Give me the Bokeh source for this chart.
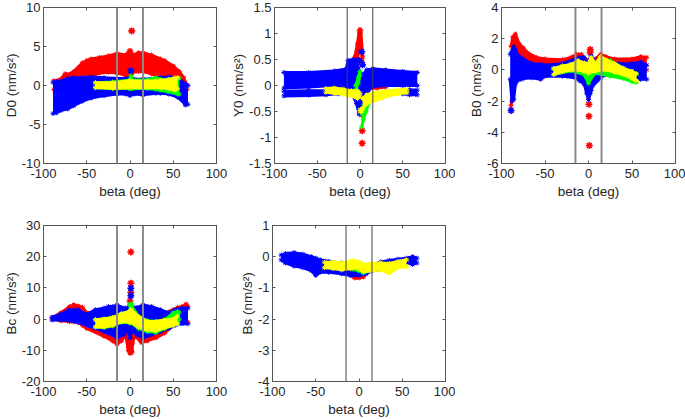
from bokeh.embed import file_html
from bokeh.resources import INLINE
from bokeh.plotting import figure
from bokeh.layouts import column, row
from bokeh.models import LinearAxis, FixedTicker, Span

RED, BLUE, GREEN, YELLOW = "#ff0000", "#0000ff", "#00ff00", "#ffff00"

X_TICKS = [-100, -50, 0, 50, 100]
X_TICK_LABELS = ["-100", "-50", "0", "50", "100"]
BETA_LINES = [-15, 15]

# ---- D0
D0_TICKS = [-10, -5, 0, 5, 10]
D0_LABELS = ["-10", "-5", "0", "5", "10"]
D0_RED_B = [-88, -80, -75, -72, -65, -55, -50, -45, -35, -25, -15, -5, -1, 0, 1, 3, 10, 15, 25, 35, 40, 50, 57, 62, 66]
D0_RED_L = [-0.5, 0.5, 0.7, 0.7, 0.8, 0.9, 1.0, 1.2, 1.6, 1.7, 1.6, 1.3, 1.0, 1.0, 1.0, 1.7, 1.8, 1.8, 1.5, 1.0, 0.8, 0.6, 0.3, -0.2, -0.5]
D0_RED_H = [0.6, 0.8, 1.5, 1.4, 1.8, 2.9, 3.2, 3.4, 3.6, 3.8, 4.1, 3.9, 4.4, 4.5, 4.4, 3.9, 4.2, 4.2, 3.9, 3.4, 3.2, 2.5, 1.8, 1.0, 0.0]
D0_RED_PX = [2, 1]
D0_RED_PY = [7.0, 1.7]
D0_BLUE_B = [-89, -85, -80, -72, -65, -55, -45, -30, -15, -5, 0, 5, 15, 30, 35, 45, 55, 60, 64, 67]
D0_BLUE_L = [-3.6, -3.5, -3.2, -3.0, -2.6, -2.0, -1.6, -1.3, -1.1, -1.1, -1.3, -1.1, -1.2, -1.0, -1.0, -1.1, -1.5, -1.9, -2.5, -2.4]
D0_BLUE_H = [0.4, 0.5, 0.5, 0.9, 1.0, 1.0, 1.1, 1.0, 0.9, 0.9, 1.0, 0.8, 0.8, 0.9, 1.0, 1.1, 0.9, 0.5, 0.2, 0.0]
D0_BLUE_PX = [1]
D0_BLUE_PY = [1.9]
D0_GREEN_B = [-40, -20, 0, 1, 3, 20, 30, 35, 45, 50, 55, 57]
D0_GREEN_L = [-0.3, -0.4, -0.4, -0.4, -0.4, -0.4, -0.5, -0.6, -0.8, -0.9, -1.1, -1.1]
D0_GREEN_H = [0.35, 0.45, 0.7, 1.2, 0.7, 0.7, 1.0, 0.8, 0.7, 0.8, 0.95, 0.95]
D0_YELLOW_B = [-40, -20, 0, 20, 35, 45, 52, 55]
D0_YELLOW_L = [-0.25, -0.35, -0.3, -0.25, -0.3, -0.4, -0.6, -0.4]
D0_YELLOW_H = [0.35, 0.35, 0.6, 0.55, 0.65, 0.8, 0.95, 1.0]

# ---- Y0
Y0_TICKS = [-1.5, -1, -0.5, 0, 0.5, 1, 1.5]
Y0_LABELS = ["-1.5", "-1", "-0.5", "0", "0.5", "1", "1.5"]
Y0_RED_B = [-10, -6, -3, -1, 0, 1, 3]
Y0_RED_L = [0.35, 0.4, 0.5, 0.8, 0.85, 0.8, 0.45]
Y0_RED_H = [0.45, 0.55, 0.8, 1.05, 1.08, 1.05, 0.55]
Y0_RED2_B = [10, 20, 30]
Y0_RED2_L = [-0.06, -0.05, -0.03]
Y0_RED2_H = [0.0, 0.0, 0.0]
Y0_RED_PX = [2, 2.5, 2.5]
Y0_RED_PY = [-0.55, -0.87, -1.11]
Y0_BLUE_B = [-89, -60, -30, -16, -14, -8, -5, 0, 3, 8, 15, 30, 50, 67]
Y0_BLUE_L = [-0.05, -0.03, 0.0, -0.03, -0.05, -0.08, -0.1, -0.2, -0.2, -0.1, -0.02, 0.0, 0.0, 0.0]
Y0_BLUE_H = [0.25, 0.25, 0.28, 0.32, 0.48, 0.5, 0.5, 0.25, 0.2, 0.3, 0.32, 0.3, 0.27, 0.25]
Y0_BLUE2_B = [-89, -60, -40, -25]
Y0_BLUE2_L = [-0.2, -0.19, -0.18, -0.16]
Y0_BLUE2_H = [-0.11, -0.1, -0.1, -0.09]
Y0_BLUE3_B = [50, 58, 67]
Y0_BLUE3_L = [-0.16, -0.18, -0.18]
Y0_BLUE3_H = [-0.09, -0.08, -0.09]
Y0_BLUE4_B = [-15, -8, -4, -1, 2, 5, 10]
Y0_BLUE4_L = [-0.08, -0.2, -0.35, -0.55, -0.5, -0.25, -0.1]
Y0_BLUE4_H = [0.0, 0.0, 0.0, 0.0, 0.0, 0.0, 0.0]
Y0_BLUE_PX = [2, 3, -1]
Y0_BLUE_PY = [0.65, 0.4, 0.48]
Y0_GREEN_B = [-5, -2, 0]
Y0_GREEN_L = [-0.08, 0.05, 0.2]
Y0_GREEN_H = [0.0, 0.15, 0.27]
Y0_GREEN2_B = [2, 4, 7, 10]
Y0_GREEN2_L = [-0.8, -0.65, -0.5, -0.35]
Y0_GREEN2_H = [-0.55, -0.4, -0.3, -0.2]
Y0_YELLOW_B = [-40, -30, -20, -10, -3, 0]
Y0_YELLOW_L = [-0.13, -0.15, -0.17, -0.2, -0.25, -0.2]
Y0_YELLOW_H = [-0.06, -0.05, -0.07, -0.1, -0.1, -0.15]
Y0_YELLOW2_B = [3, 8, 15, 25, 35, 45, 55]
Y0_YELLOW2_L = [-0.45, -0.35, -0.3, -0.25, -0.19, -0.16, -0.14]
Y0_YELLOW2_H = [-0.25, -0.18, -0.14, -0.12, -0.1, -0.08, -0.07]
Y0_YELLOW_PX = [1]
Y0_YELLOW_PY = [-0.48]

# ---- B0
B0_TICKS = [-6, -4, -2, 0, 2, 4]
B0_LABELS = ["-6", "-4", "-2", "0", "2", "4"]
B0_RED_B = [-89, -87, -84, -80, -75, -70, -60, -50, -30, -20, -14, -8, -4, 0, 3, 8, 14, 20, 30, 50, 60, 67]
B0_RED_L = [-2.3, -1.5, 0, 0, 0, 0, 0, 0, 0, 0, 0, 0, 0, -1.8, 0, 0, 0, 0, 0, 0, 0, 0]
B0_RED_H = [1.5, 2.1, 2.3, 1.7, 1.4, 1.1, 0.8, 0.7, 0.65, 0.8, 1.0, 1.0, 0.7, 0.6, 0.5, 0.7, 1.0, 0.85, 0.7, 0.7, 0.85, 0.8]
B0_RED_PX = [1, 0.5, 0.5, 2, 2]
B0_RED_PY = [-4.85, -2.97, -2.2, 1.3, 1.1]
B0_BLUE_B = [-90, -88, -86, -84, -82, -78, -75, -65, -55, -50, -30, -15, -10, -5, -2, 0, 2, 3, 5, 7, 10, 14, 20, 35, 50, 60, 67]
B0_BLUE_L = [-0.6, -2.0, -1.9, -0.9, -0.7, -0.6, -0.55, -0.5, -0.6, -0.4, -0.4, -0.5, -0.7, -0.9, -1.5, -1.9, -1.5, -1.3, -1.0, -0.85, -0.7, -0.5, -0.3, -0.2, -0.3, -0.6, -0.6]
B0_BLUE_H = [1.0, 1.2, 1.5, 1.3, 1.0, 0.8, 0.7, 0.4, 0.35, 0.3, 0.4, 0.7, 0.8, 0.8, 0.4, 0.3, 0.7, 0.9, 0.7, 0.5, 0.5, 0.5, 0.5, 0.4, 0.4, 0.5, 0.3]
B0_BLUE_PX = [-89]
B0_BLUE_PY = [-2.6]
B0_GREEN_B = [-40, -20, -5, 0, 2, 8, 25, 40, 50, 55]
B0_GREEN_L = [-0.3, -0.05, -0.3, -0.85, -0.6, -0.2, -0.4, -0.55, -0.75, -0.8]
B0_GREEN_H = [0.05, 0.35, 0.4, 0.3, 0.5, 0.4, 0.6, 0.1, -0.1, -0.25]
B0_YELLOW_B = [-40, -30, -20, -12, -5, 0, 3, 8, 14, 20, 30, 40, 50, 55]
B0_YELLOW_L = [-0.3, -0.1, 0.0, 0.0, -0.1, -0.2, -0.1, -0.1, 0.0, 0.0, -0.15, -0.3, -0.55, -0.7]
B0_YELLOW_H = [0.1, 0.25, 0.35, 0.6, 0.45, 0.4, 0.8, 0.4, 0.85, 0.65, 0.4, 0.1, -0.1, -0.25]

# ---- Bc
BC_TICKS = [-20, -10, 0, 10, 20, 30]
BC_LABELS = ["-20", "-10", "0", "10", "20", "30"]
BC_RED_B = [-90, -80, -70, -65, -60, -55, -50, -30, -20, -15, -10, -5, -2, 0, 2, 5, 13, 20, 30, 40, 50, 55, 60, 65, 67]
BC_RED_L = [0, -0.5, -0.8, -0.9, -1, -2, -3, -5.5, -7, -8, -7, -5, -10, -11, -10, -5, -7.5, -7, -6, -4.5, -2, -1.5, -1, -1, -1]
BC_RED_H = [0.5, 2, 4, 4.6, 4.2, 3.8, 2, 2, 2.5, 2.5, 2.5, 2.5, 3, 3, 3, 2.5, 2.5, 2.5, 2, 2, 3, 3.7, 4, 4.8, 4]
BC_RED_PX = [1, 1, 0, 1, -0.5, 1, 1]
BC_RED_PY = [21.5, 11.5, 5.8, 8.5, -9, -8, -10.5]
BC_BLUE_B = [-90, -80, -70, -60, -50, -40, -30, -25, -20, -15, -7, -5, -3, 0, 3, 5, 8, 15, 25, 35, 45, 52, 55, 60, 67]
BC_BLUE_L = [-0.3, -0.3, -0.5, -1, -2, -3, -4, -4.5, -5, -6, -5, -4, -3, -6, -3, -4, -5, -6, -5, -4, -3, -2, -1.5, -1.5, -1.5]
BC_BLUE_H = [0.6, 1.5, 3, 3, 1.5, 3, 3.5, 4, 4, 4.5, 3.5, 3.5, 3.5, 4.5, 3.5, 3.5, 3.7, 4.5, 4, 3, 2, 3, 3.2, 3.5, 3.5]
BC_BLUE_PX = [1, 1]
BC_BLUE_PY = [9.9, 7.5]
BC_GREEN_B = [-40, -30, -20, -10, 0, 1, 10, 20, 30, 40, 50, 55, 57]
BC_GREEN_L = [-2.5, -2.7, -2.2, -1, -1.2, -1.2, -3, -4, -4.3, -3, -2, -1.5, 0]
BC_GREEN_H = [-0.2, 0, 0.5, 1.7, 2.5, 4.5, 0.8, -0.5, -0.8, -0.3, 2, 2.5, 2]
BC_GREEN_PX = [1]
BC_GREEN_PY = [4.5]
BC_YELLOW_B = [-40, -30, -20, -10, 0, 1, 10, 20, 30, 40, 50, 55]
BC_YELLOW_L = [-2.5, -2.5, -2, -0.8, -1, -1, -2.5, -3.5, -3.7, -2.8, -2, -1.5]
BC_YELLOW_H = [-0.2, 0, 0.5, 1.7, 2.5, 3, 0.8, -0.8, -0.8, -0.3, 0, 1]

# ---- Bs
BS_TICKS = [-4, -3, -2, -1, 0, 1]
BS_LABELS = ["-4", "-3", "-2", "-1", "0", "1"]
BS_RED_B = [-10, -5, 0, 5, 10]
BS_RED_L = [-0.6, -0.68, -0.68, -0.65, -0.5]
BS_RED_H = [-0.4, -0.4, -0.4, -0.4, -0.4]
BS_BLUE_B = [-90, -85, -75, -65, -55, -50, -45, -35, -20, -10, 0, 8, 15, 25, 35, 45, 55, 62, 67]
BS_BLUE_L = [-0.1, -0.2, -0.3, -0.35, -0.45, -0.6, -0.5, -0.5, -0.55, -0.6, -0.6, -0.55, -0.45, -0.4, -0.3, -0.22, -0.18, -0.25, -0.2]
BS_BLUE_H = [0.05, 0.1, 0.13, 0.08, 0.0, -0.05, -0.1, -0.15, -0.2, -0.3, -0.3, -0.3, -0.28, -0.17, -0.12, -0.08, -0.05, 0.0, -0.05]
BS_GREEN_B = [-8, 0, 5, 12]
BS_GREEN_L = [-0.4, -0.45, -0.52, -0.45]
BS_GREEN_H = [-0.2, -0.2, -0.25, -0.25]
BS_YELLOW_B = [-40, -30, -20, -10, -5, 0, 5, 15, 25, 35, 45, 55]
BS_YELLOW_L = [-0.35, -0.38, -0.42, -0.38, -0.35, -0.4, -0.48, -0.45, -0.42, -0.53, -0.35, -0.32]
BS_YELLOW_H = [-0.18, -0.17, -0.2, -0.15, -0.13, -0.17, -0.25, -0.22, -0.2, -0.22, -0.15, -0.1]

FONT = "Liberation Sans"
AXIS_COLOR = "#555555"


def band(p, color, beta, low, high):
    p.varea(beta, low, high, fill_color=color)
    for ys in (low, high):
        p.line(beta, ys, line_color=color, line_width=3, line_join="round")
        p.scatter(beta, ys, marker="asterisk", size=5, line_color=color, line_width=1)


def pts(p, color, xs, ys):
    p.scatter(xs, ys, marker="asterisk", size=7, line_color=color, line_width=1.6)


def style_axis(ax, ticks, labels):
    ax.ticker = FixedTicker(ticks=ticks)
    ax.major_label_overrides = dict(zip(ticks, labels))
    ax.major_tick_in = 3
    ax.major_tick_out = 0
    ax.minor_tick_in = 0
    ax.minor_tick_out = 0
    ax.axis_line_color = AXIS_COLOR
    ax.major_tick_line_color = AXIS_COLOR
    ax.major_label_text_font = FONT
    ax.major_label_text_font_size = "13px"
    ax.major_label_text_color = "#262626"
    ax.major_label_standoff = 3
    ax.axis_label_text_font = FONT
    ax.axis_label_text_font_size = "13.5px"
    ax.axis_label_text_font_style = "normal"
    ax.axis_label_text_color = "#262626"
    ax.axis_label_standoff = 0


def panel(ylabel, yr, yticks, ylabels, left, right, top, bottom, height, width, line_color, line_width):
    p = figure(width=width, height=height, x_range=(-100, 100), y_range=yr,
               toolbar_location=None, output_backend="svg",
               min_border_left=left, min_border_right=right,
               min_border_top=top, min_border_bottom=bottom,
               x_axis_label="beta (deg)", y_axis_label=ylabel)
    p.grid.visible = False
    p.outline_line_color = AXIS_COLOR
    style_axis(p.xaxis[0], X_TICKS, X_TICK_LABELS)
    style_axis(p.yaxis[0], yticks, ylabels)
    p.xaxis[0].major_label_standoff = 5
    p.xaxis[0].axis_label_standoff = 3
    for side, t in (("right", yticks), ("above", X_TICKS)):
        ax = LinearAxis()
        style_axis(ax, t, [""] * len(t))
        ax.major_label_standoff = 0
        p.add_layout(ax, side)
    return p, (line_color, line_width)


def finish(p, st):
    for b in BETA_LINES:
        p.add_layout(Span(location=b, dimension="height", line_color=st[0], line_width=st[1]))


TOP_H, BOT_H = 210, 209

p1, s1 = panel("D0 (nm/s²)", (-10, 10), D0_TICKS, D0_LABELS, 42, 12, 7, 47, TOP_H, 228, "#8a8a8a", 2)
band(p1, RED, D0_RED_B, D0_RED_L, D0_RED_H)
pts(p1, RED, D0_RED_PX, D0_RED_PY)
band(p1, BLUE, D0_BLUE_B, D0_BLUE_L, D0_BLUE_H)
pts(p1, BLUE, D0_BLUE_PX, D0_BLUE_PY)
band(p1, GREEN, D0_GREEN_B, D0_GREEN_L, D0_GREEN_H)
band(p1, YELLOW, D0_YELLOW_B, D0_YELLOW_L, D0_YELLOW_H)
finish(p1, s1)

p2, s2 = panel("Y0 (nm/s²)", (-1.5, 1.5), Y0_TICKS, Y0_LABELS, 44, 10, 7, 47, TOP_H, 227, "#444444", 1)
band(p2, RED, Y0_RED_B, Y0_RED_L, Y0_RED_H)
band(p2, RED, Y0_RED2_B, Y0_RED2_L, Y0_RED2_H)
pts(p2, RED, Y0_RED_PX, Y0_RED_PY)
band(p2, BLUE, Y0_BLUE_B, Y0_BLUE_L, Y0_BLUE_H)
band(p2, BLUE, Y0_BLUE2_B, Y0_BLUE2_L, Y0_BLUE2_H)
band(p2, BLUE, Y0_BLUE3_B, Y0_BLUE3_L, Y0_BLUE3_H)
band(p2, BLUE, Y0_BLUE4_B, Y0_BLUE4_L, Y0_BLUE4_H)
pts(p2, BLUE, Y0_BLUE_PX, Y0_BLUE_PY)
band(p2, GREEN, Y0_GREEN_B, Y0_GREEN_L, Y0_GREEN_H)
band(p2, GREEN, Y0_GREEN2_B, Y0_GREEN2_L, Y0_GREEN2_H)
band(p2, YELLOW, Y0_YELLOW_B, Y0_YELLOW_L, Y0_YELLOW_H)
band(p2, YELLOW, Y0_YELLOW2_B, Y0_YELLOW2_L, Y0_YELLOW2_H)
pts(p2, YELLOW, Y0_YELLOW_PX, Y0_YELLOW_PY)
finish(p2, s2)

p3, s3 = panel("B0 (nm/s²)", (-6, 4), B0_TICKS, B0_LABELS, 46, 10, 7, 47, TOP_H, 230, "#8a8a8a", 2)
band(p3, RED, B0_RED_B, B0_RED_L, B0_RED_H)
pts(p3, RED, B0_RED_PX, B0_RED_PY)
band(p3, BLUE, B0_BLUE_B, B0_BLUE_L, B0_BLUE_H)
pts(p3, BLUE, B0_BLUE_PX, B0_BLUE_PY)
band(p3, GREEN, B0_GREEN_B, B0_GREEN_L, B0_GREEN_H)
band(p3, YELLOW, B0_YELLOW_B, B0_YELLOW_L, B0_YELLOW_H)
finish(p3, s3)

p4, s4 = panel("Bc (nm/s²)", (-20, 30), BC_TICKS, BC_LABELS, 42, 12, 15, 36, BOT_H, 228, "#8a8a8a", 2)
band(p4, RED, BC_RED_B, BC_RED_L, BC_RED_H)
pts(p4, RED, BC_RED_PX, BC_RED_PY)
band(p4, BLUE, BC_BLUE_B, BC_BLUE_L, BC_BLUE_H)
pts(p4, BLUE, BC_BLUE_PX, BC_BLUE_PY)
band(p4, GREEN, BC_GREEN_B, BC_GREEN_L, BC_GREEN_H)
pts(p4, GREEN, BC_GREEN_PX, BC_GREEN_PY)
band(p4, YELLOW, BC_YELLOW_B, BC_YELLOW_L, BC_YELLOW_H)
finish(p4, s4)

p5, s5 = panel("Bs (nm/s²)", (-4, 1), BS_TICKS, BS_LABELS, 44, 10, 15, 36, BOT_H, 227, "#444444", 1)
band(p5, RED, BS_RED_B, BS_RED_L, BS_RED_H)
band(p5, BLUE, BS_BLUE_B, BS_BLUE_L, BS_BLUE_H)
band(p5, GREEN, BS_GREEN_B, BS_GREEN_L, BS_GREEN_H)
band(p5, YELLOW, BS_YELLOW_B, BS_YELLOW_L, BS_YELLOW_H)
finish(p5, s5)

page = column(row(p1, p2, p3, spacing=0), row(p4, p5, spacing=0), spacing=0)
open("out.html", "w").write(file_html(page, INLINE))
